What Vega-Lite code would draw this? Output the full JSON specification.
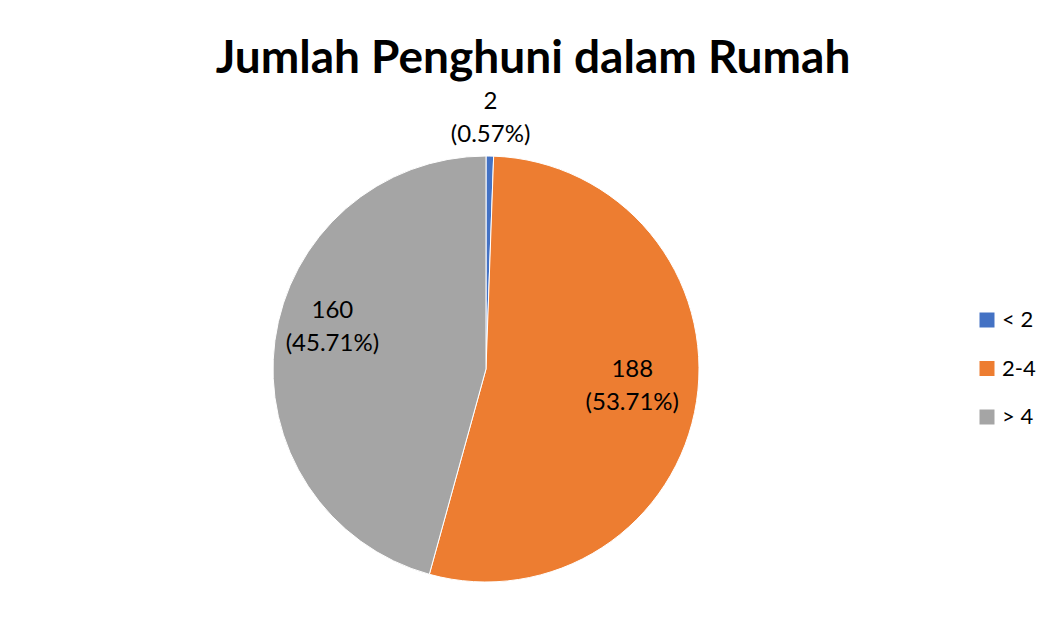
{
  "$schema": "https://vega.github.io/schema/vega-lite/v6.json",
  "autosize": "none",
  "width": 972,
  "height": 538,
  "padding": {"left": 0, "top": 100, "right": 76, "bottom": 0},
  "background": "white",
  "config": {
    "view": {"stroke": null},
    "font": "Lato"
  },
  "title": {
    "text": "Jumlah Penghuni dalam Rumah",
    "font": "Lato",
    "fontSize": 46,
    "fontWeight": "bold",
    "color": "#000000",
    "anchor": "middle",
    "frame": "group",
    "orient": "top",
    "baseline": "alphabetic",
    "offset": -29,
    "dx": 47
  },
  "data": {
    "values": [
      {"idx": 1, "group": "< 2", "count": 2, "label": "2\n(0.57%)"},
      {"idx": 2, "group": "2-4", "count": 188, "label": "188\n(53.71%)"},
      {"idx": 3, "group": "> 4", "count": 160, "label": "160\n(45.71%)"}
    ]
  },
  "encoding": {
    "theta": {"field": "count", "type": "quantitative", "stack": true},
    "order": {"field": "idx", "type": "quantitative"}
  },
  "layer": [
    {
      "mark": {"type": "arc", "outerRadius": 213, "stroke": "white", "strokeWidth": 1},
      "encoding": {
        "color": {
          "field": "group",
          "type": "nominal",
          "sort": ["< 2", "2-4", "> 4"],
          "scale": {"domain": ["< 2", "2-4", "> 4"], "range": ["#4472C4", "#ED7D31", "#A5A5A5"]},
          "legend": {
            "title": null,
            "orient": "none",
            "legendX": 976,
            "legendY": 209,
            "symbolType": "square",
            "symbolSize": 225,
            "symbolStrokeWidth": 0,
            "labelFont": "Lato",
            "labelFontSize": 22,
            "labelColor": "#000000",
            "labelOffset": 4,
            "labelLimit": 100,
            "rowPadding": 26.5,
            "padding": 0
          }
        }
      }
    },
    {
      "mark": {"type": "text", "radius": 148, "dy": -21.5, "fontSize": 24, "font": "Lato", "color": "#000000", "lineBreak": "\n", "lineHeight": 33, "align": "center", "baseline": "middle"},
      "encoding": {
        "text": {"condition": {"test": "datum.group == '2-4'", "field": "label"}, "value": ""}
      }
    },
    {
      "mark": {"type": "text", "radius": 155, "dy": -37.5, "fontSize": 24, "font": "Lato", "color": "#000000", "lineBreak": "\n", "lineHeight": 33, "align": "center", "baseline": "middle"},
      "encoding": {
        "text": {"condition": {"test": "datum.group == '> 4'", "field": "label"}, "value": ""}
      }
    },
    {
      "mark": {"type": "text", "radius": 253, "dy": -14, "fontSize": 24, "font": "Lato", "color": "#000000", "lineBreak": "\n", "lineHeight": 33, "align": "center", "baseline": "middle"},
      "encoding": {
        "text": {"condition": {"test": "datum.group == '< 2'", "field": "label"}, "value": ""}
      }
    }
  ]
}
